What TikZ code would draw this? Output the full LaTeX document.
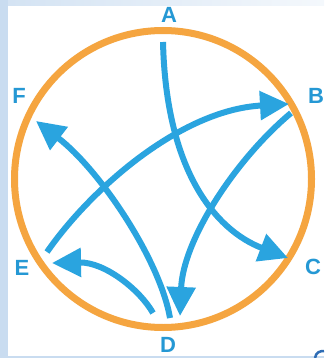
\documentclass[tikz,border=0pt]{standalone}
\usepackage{fontspec}
\setmainfont{Liberation Sans}
\usetikzlibrary{arrows.meta}
\definecolor{arrblue}{HTML}{2AA4DF}
\definecolor{lblblue}{HTML}{2598D4}
\definecolor{ringor}{HTML}{F5A540}
\definecolor{bgblue}{HTML}{C9DCF0}
\definecolor{bgfade}{HTML}{F4F8FC}
\definecolor{darkb}{HTML}{2F6DB5}
\begin{document}
\begin{tikzpicture}[x=1pt,y=-1pt,
  flow/.style={draw=arrblue,line width=6pt,-{Triangle[length=29pt,width=28pt]}},
  lbl/.style={text=lblblue,font=\bfseries\fontsize{22}{22}\selectfont,inner sep=0pt}]
\useasboundingbox (0,0) rectangle (324,358);
% background
\fill[bgblue] (0,0) rectangle (324,358);
\shade[left color=bgblue!80!white,right color=bgfade] (8,0) rectangle (324,6);
\fill[white] (8,6) rectangle (324,355.5);
\draw[darkb,line width=2.5pt] (315,358) .. controls (316,352) and (320,351) .. (324,351);
% ring
\draw[ringor,line width=7pt] (163,179) circle (148.5);
% labels
\node[lbl] (A) at (169,15) {A};
\node[lbl] (B) at (316,96) {B};
\node[lbl] (C) at (313,267) {C};
\node[lbl] (D) at (168,345) {D};
\node[lbl] (E) at (22,268) {E};
\node[lbl] (F) at (19,96) {F};
% arrow end points
\coordinate (a0) at (163,42);
\coordinate (c1) at (288,258);
\coordinate (e0) at (47,252);
\coordinate (b1) at (289,104);
\coordinate (b0) at (291,113);
\coordinate (d1) at (180,316);
\coordinate (d0) at (170,318);
\coordinate (f1) at (36,121);
\coordinate (d2) at (153,313);
\coordinate (e1) at (52,263);
% arrows
\draw[flow] (a0) .. controls (166,170) and (215,230) .. (c1);
\draw[flow] (e0) .. controls (90,190) and (180,110) .. (b1);
\draw[flow] (b0) .. controls (235,160) and (183,240) .. (d1);
\draw[flow] (d0) .. controls (160,260) and (100,170) .. (f1);
\draw[flow] (d2) .. controls (140,290) and (105,262) .. (e1);
\end{tikzpicture}
\end{document}
